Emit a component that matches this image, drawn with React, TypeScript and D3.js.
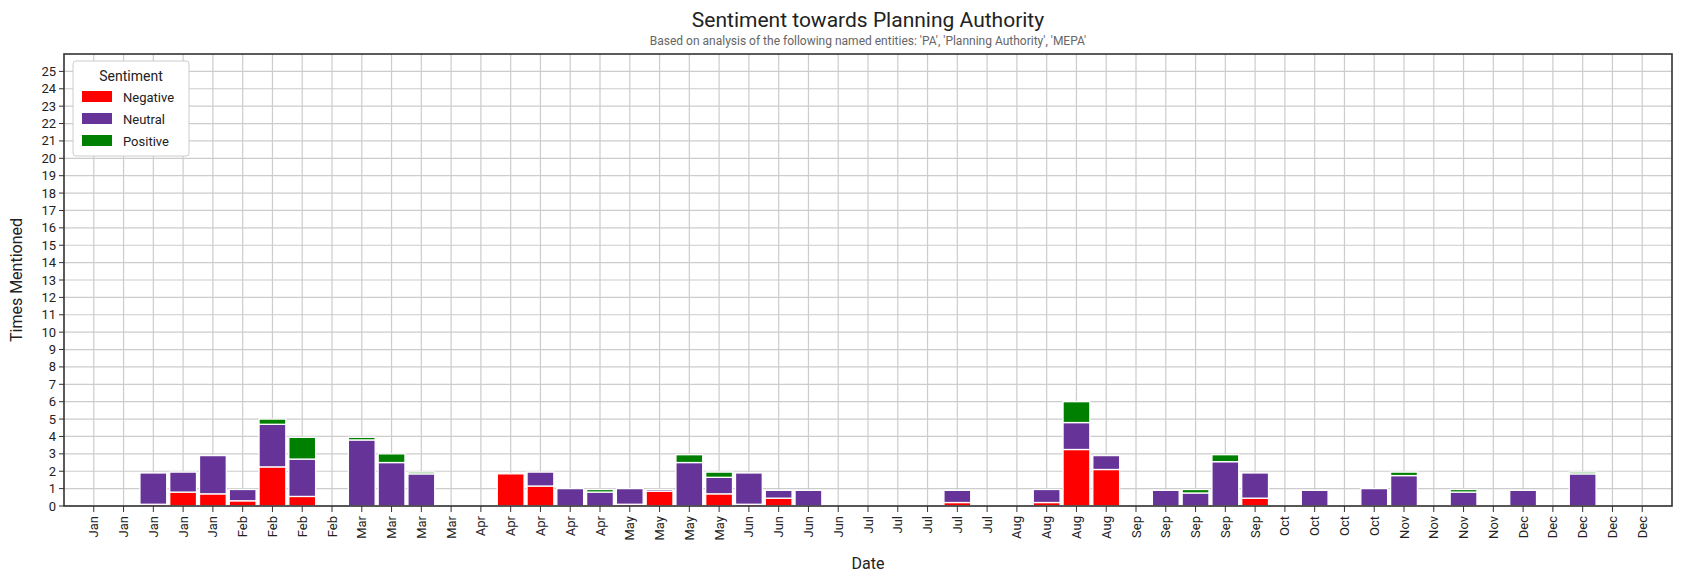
import React from "react";
import * as d3 from "d3";

const labels = [
  "Jan","Jan","Jan","Jan","Jan","Feb","Feb","Feb","Feb","Mar","Mar","Mar","Mar",
  "Apr","Apr","Apr","Apr","Apr","May","May","May","May","Jun","Jun","Jun","Jun",
  "Jul","Jul","Jul","Jul","Jul","Aug","Aug","Aug","Aug","Sep","Sep","Sep","Sep","Sep",
  "Oct","Oct","Oct","Oct","Nov","Nov","Nov","Nov","Dec","Dec","Dec","Dec","Dec",
];
const negative = [0,0,0.1,0.8,0.7,0.3,2.25,0.55,0,0,0,0,0,0,1.85,1.15,0,0,0.1,0.85,0,0.7,0.1,0.45,0,0,0,0,0,0.2,0,0,0.2,3.25,2.1,0,0,0,0,0.45,0,0,0,0,0,0,0,0,0,0,0,0,0];
const neutral = [0,0,1.8,1.15,2.2,0.65,2.45,2.15,0,3.8,2.5,1.85,0,0,0,0.8,1.0,0.8,0.9,0.1,2.5,0.95,1.8,0.45,0.9,0,0,0,0,0.7,0,0,0.75,1.55,0.8,0,0.9,0.75,2.55,1.45,0,0.9,0,1.0,1.75,0,0.8,0,0.9,0,1.85,0,0];
const positive = [0,0,0,0,0,0,0.3,1.25,0,0.15,0.5,0.1,0,0,0,0,0,0.15,0,0,0.45,0.3,0,0,0,0,0,0,0,0,0,0,0,1.2,0,0,0,0.2,0.4,0,0,0,0,0,0.2,0,0.15,0,0,0,0.1,0,0];
const series = [
  { name: "Negative", values: negative, color: "#ff0000" },
  { name: "Neutral", values: neutral, color: "#663399" },
  { name: "Positive", values: positive, color: "#008000" },
];
const yTicks = d3.range(0, 26);

const W = 1684, H = 583;
const m = { left: 64, right: 12, top: 54, bottom: 77 };
const font = "Roboto, 'DejaVu Sans', sans-serif";

export default function App() {
  const x = d3.scaleLinear().domain([-1, labels.length]).range([m.left, W - m.right]);
  const y = d3.scaleLinear().domain([0, 26]).range([H - m.bottom, m.top]);
  const bw = (x(1) - x(0)) * 0.9;
  const stack = d3.stack<number>().keys(["0", "1", "2"]).value((i, k) => series[+k].values[i]);
  const layers = stack(d3.range(labels.length));
  const cx = (m.left + W - m.right) / 2;
  return (
    <svg width={W} height={H} style={{ position: "absolute", left: 0, top: 0, fontFamily: font }}>
      <rect width={W} height={H} fill="#fff" />
      <text x={cx} y={27} textAnchor="middle" fontSize={21} fill="#222">Sentiment towards Planning Authority</text>
      <text x={cx} y={45} textAnchor="middle" fontSize={12} fill="#666">Based on analysis of the following named entities: 'PA', 'Planning Authority', 'MEPA'</text>
      {labels.map((_, i) => (
        <line key={"gx" + i} x1={x(i)} x2={x(i)} y1={m.top} y2={H - m.bottom} stroke="#cccccc" strokeWidth={1.2} />
      ))}
      {yTicks.map((t) => (
        <line key={"gy" + t} x1={m.left} x2={W - m.right} y1={y(t)} y2={y(t)} stroke="#cccccc" strokeWidth={1.2} />
      ))}
      {layers.map((layer, k) =>
        layer.map((d, i) =>
          d[1] - d[0] > 0 ? (
            <rect key={k + "-" + i} x={x(i) - bw / 2} y={y(d[1])} width={bw} height={y(d[0]) - y(d[1])}
              fill={series[k].color} stroke="#fff" strokeWidth={1.3} />
          ) : null
        )
      )}
      <rect x={m.left} y={m.top} width={W - m.left - m.right} height={H - m.top - m.bottom} fill="none" stroke="#333" strokeWidth={1.6} />
      {yTicks.map((t) => (
        <g key={"ty" + t}>
          <line x1={m.left - 5} x2={m.left} y1={y(t)} y2={y(t)} stroke="#333" />
          <text x={m.left - 8} y={y(t) + 4.5} textAnchor="end" fontSize={13} fill="#222">{t}</text>
        </g>
      ))}
      {labels.map((l, i) => (
        <g key={"tx" + i}>
          <line x1={x(i)} x2={x(i)} y1={H - m.bottom} y2={H - m.bottom + 6} stroke="#333" />
          <text transform={`translate(${x(i) + 4.5},${H - m.bottom + 10}) rotate(-90)`} textAnchor="end" fontSize={13} fill="#222">{l}</text>
        </g>
      ))}
      <text x={cx} y={569} textAnchor="middle" fontSize={16} fill="#222">Date</text>
      <text transform={`translate(22,${(m.top + H - m.bottom) / 2}) rotate(-90)`} textAnchor="middle" fontSize={16} fill="#222">Times Mentioned</text>
      <g transform="translate(73,61)">
        <rect width={116} height={95} rx={3} fill="#fff" stroke="#ccc" />
        <text x={58} y={20} textAnchor="middle" fontSize={14} fill="#222">Sentiment</text>
        <g>
          {series.map((s, i) => (
            <g key={s.name} transform={`translate(9,${30 + i * 22})`}>
              <rect width={30} height={11} fill={s.color} />
              <text x={41} y={11} fontSize={13} fill="#222">{s.name}</text>
            </g>
          ))}
        </g>
      </g>
    </svg>
  );
}
